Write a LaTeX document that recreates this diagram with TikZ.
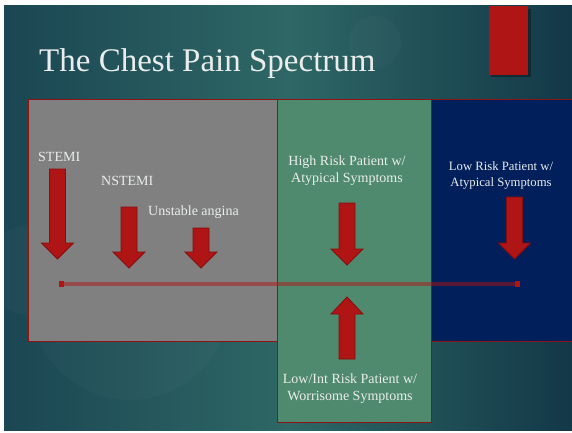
\documentclass[tikz,border=0pt]{standalone}
\usepackage{fontspec}
\setmainfont{Liberation Serif}
\usetikzlibrary{shadows,calc}
\definecolor{bgL}{HTML}{1B4653}
\definecolor{bgM}{HTML}{2E6765}
\definecolor{bgR}{HTML}{133848}
\definecolor{boxgray}{HTML}{808080}
\definecolor{boxgreen}{HTML}{4F8A6E}
\definecolor{boxnavy}{HTML}{001F5B}
\definecolor{arrred}{HTML}{B01515}
\definecolor{arredge}{HTML}{850E0E}
\definecolor{bordred}{HTML}{8E1414}
\definecolor{txt}{HTML}{EAEDEC}
\tikzset{
  panel/.style={draw=bordred, line width=1pt},
  bigarrow/.style={fill=arrred, draw=arredge, line width=0.8pt, line join=miter},
  lbl/.style={text=txt, inner sep=0pt, align=center, font=\fontsize{14}{17}\selectfont},
  smalllbl/.style={text=txt, inner sep=0pt, align=center, font=\fontsize{12.7}{16}\selectfont},
}
% down arrow: center x, top y, tip y
\newcommand\chestdown[3]{%
  \draw[bigarrow] (#1-8,#2) -- (#1+8,#2) -- (#1+8,#3-16) -- (#1+16,#3-16) -- (#1,#3)
    -- (#1-16,#3-16) -- (#1-8,#3-16) -- cycle;}
\newcommand\chestup[3]{%
  \draw[bigarrow] (#1-8,#2) -- (#1+8,#2) -- (#1+8,#3+17) -- (#1+16,#3+17) -- (#1,#3)
    -- (#1-16,#3+17) -- (#1-8,#3+17) -- cycle;}
\begin{document}
\begin{tikzpicture}[x=1pt,y=-1pt]
\useasboundingbox (0,0) rectangle (572,433);
\fill[white] (0,0) rectangle (572,433);
% background
\shade[left color=bgL, right color=bgR, middle color=bgM] (4,6) rectangle (572,430);
\fill[white, opacity=0.025] (375,42) circle (26);
\fill[white, opacity=0.02] (130,300) circle (100);
\fill[white, opacity=0.02] (30,270) circle (45);
% title
\node[anchor=base west, inner sep=0pt, text=txt, font=\fontsize{33}{36}\selectfont] (title) at (39,72) {The Chest Pain Spectrum};
% red block
\fill[black, opacity=0.35] (491,9) rectangle (531,77);
\fill[arrred] (489,6) rectangle (528,75);
% panels
\path[panel, fill=boxgray] (28,100) rectangle (277,341);
\path[panel, fill=boxnavy] (431,100) rectangle (574,341);
\path[panel, fill=boxgreen] (277,100) rectangle (431,422);
% nodes for labels
\node[lbl, anchor=west] (stemi) at (38,157) {STEMI};
\node[lbl, anchor=west] (nstemi) at (101,181) {NSTEMI};
\node[lbl, anchor=west] (ua) at (148,212) {Unstable angina};
\node[lbl] (high) at (347,170.5) {High Risk Patient w/\\Atypical Symptoms};
\node[smalllbl] (low) at (501,175) {Low Risk Patient w/\\Atypical Symptoms};
\node[lbl] (lowint) at (350,388.5) {Low/Int Risk Patient w/\\Worrisome Symptoms};
% arrows
\chestdown{57.5}{169}{259}
\chestdown{129}{207}{268}
\chestdown{201}{228}{268}
\chestdown{347}{203}{265}
\chestdown{514.5}{197}{259}
\chestup{347}{359}{297}
% spectrum line
\coordinate (ls) at (61,284);
\coordinate (le) at (517,284);
\draw[arrred, opacity=0.5, line width=4pt] (ls) -- (le);
\fill[arrred] ($(ls)+(-2.5,-3)$) rectangle ($(ls)+(2.5,3)$);
\fill[arrred] ($(le)+(-2.5,-3)$) rectangle ($(le)+(2.5,3)$);
\end{tikzpicture}
\end{document}
